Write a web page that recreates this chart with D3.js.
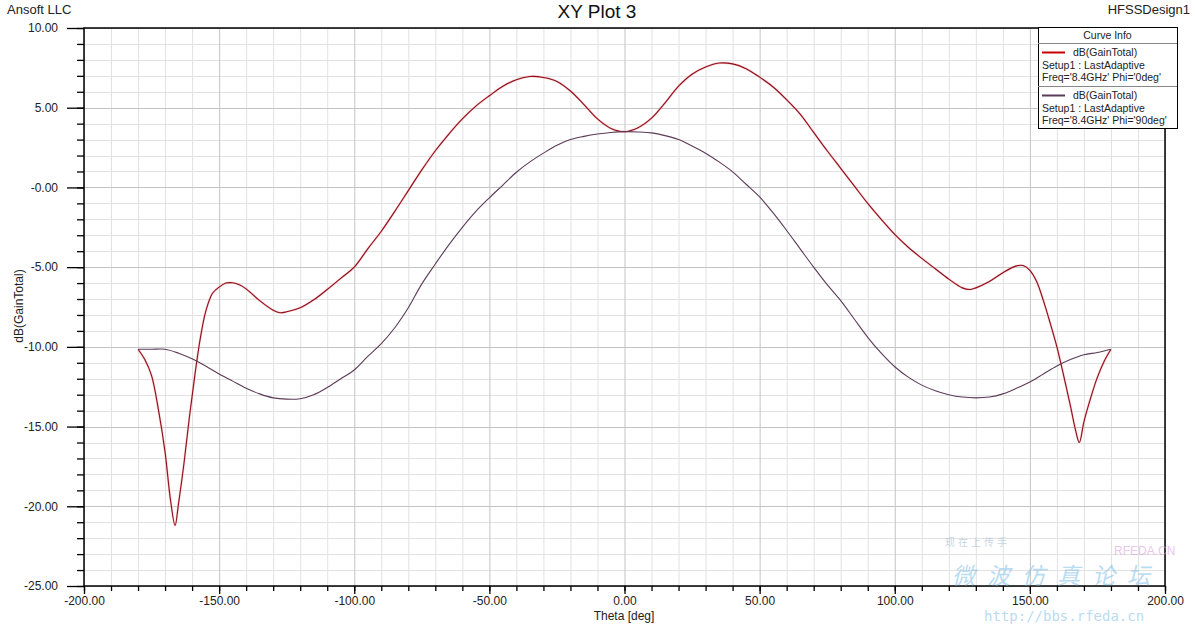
<!DOCTYPE html>
<html>
<head>
<meta charset="utf-8">
<script src="https://cdn.jsdelivr.net/npm/d3@7"></script>
<style>
  body { margin: 0; background: #fff; }
  svg { display: block; font-family: "Liberation Sans", Arial, sans-serif; }
</style>
</head>
<body>
<svg id="chart" width="1195" height="624"></svg>
<script>
// ---------------- data ----------------
const thetaPhi0 = [-180,-177.5,-175,-172.5,-170,-168,-166.3,-165,-163,-161,-159,-157,-155,-152.5,-150,-147.5,-145,-142.5,-140,-135,-130,-127.5,-125,-120,-115,-110,-105,-100,-95,-90,-85,-80,-75,-70,-65,-60,-55,-50,-45,-40,-35,-30,-25,-20,-15,-10,-5,0,5,10,15,20,25,30,35,40,45,50,55,60,65,70,75,80,85,90,95,100,105,110,115,120,125,128,130,135,140,145,147.5,150,152.5,155,157.5,160,162.5,165,167,168.3,170,172.5,175,177.5,180];
const gainPhi0 = [-10.15,-10.8,-11.8,-13.9,-16.6,-19.6,-21.2,-19.8,-17.3,-14.4,-11.8,-9.5,-7.8,-6.65,-6.25,-6.0,-5.98,-6.1,-6.36,-7.1,-7.7,-7.86,-7.8,-7.55,-7.05,-6.4,-5.7,-5.0,-3.85,-2.75,-1.5,-0.2,1.1,2.3,3.35,4.3,5.1,5.75,6.35,6.75,6.96,6.9,6.65,6.05,5.2,4.3,3.7,3.5,3.75,4.35,5.3,6.35,7.1,7.55,7.8,7.75,7.45,6.92,6.3,5.5,4.6,3.45,2.3,1.2,0.1,-1.0,-2.0,-2.95,-3.75,-4.45,-5.1,-5.75,-6.3,-6.4,-6.3,-5.9,-5.35,-4.92,-4.9,-5.2,-5.9,-7.1,-8.5,-10.0,-11.8,-13.7,-15.3,-16.0,-14.7,-13.2,-11.9,-10.9,-10.15];

const thetaPhi90 = [-180,-175,-170,-165,-160,-155,-150,-145,-140,-135,-130,-125,-120,-115,-110,-105,-100,-95,-90,-85,-80,-75,-70,-65,-60,-55,-50,-45,-40,-35,-30,-25,-20,-15,-10,-5,0,5,10,15,20,25,30,35,40,45,50,55,60,65,70,75,80,85,90,95,100,105,110,115,120,125,130,135,140,145,150,155,160,165,170,175,180];
const gainPhi90 = [-10.15,-10.15,-10.15,-10.4,-10.75,-11.2,-11.7,-12.15,-12.6,-12.95,-13.2,-13.28,-13.25,-13.0,-12.55,-12.0,-11.45,-10.6,-9.8,-8.8,-7.55,-6.05,-4.8,-3.6,-2.5,-1.5,-0.65,0.15,0.95,1.6,2.15,2.65,3.0,3.2,3.35,3.45,3.5,3.48,3.42,3.25,3.0,2.6,2.15,1.6,0.98,0.2,-0.6,-1.6,-2.7,-3.85,-5.0,-6.1,-7.1,-8.25,-9.4,-10.4,-11.25,-11.9,-12.4,-12.75,-13.0,-13.15,-13.2,-13.15,-12.95,-12.6,-12.2,-11.7,-11.2,-10.8,-10.5,-10.35,-10.15];

const xTickValues = [-200,-150,-100,-50,0,50,100,150,200];
const xTickLabels = ["-200.00","-150.00","-100.00","-50.00","0.00","50.00","100.00","150.00","200.00"];
const yTickValues = [10,5,0,-5,-10,-15,-20,-25];
const yTickLabels = ["10.00","5.00","-0.00","-5.00","-10.00","-15.00","-20.00","-25.00"];

const seriesNames = ["dB(GainTotal)","dB(GainTotal)"];
const seriesSetup = ["Setup1 : LastAdaptive","Setup1 : LastAdaptive"];
const seriesFreq = ["Freq='8.4GHz' Phi='0deg'","Freq='8.4GHz' Phi='90deg'"];
const seriesColors = ["#c80000","#5c3a58"];

// ---------------- layout ----------------
const svg = d3.select("#chart");
const L = 84, R = 1165, T = 28, B = 586;
const x = d3.scaleLinear().domain([-200, 200]).range([L, R]);
const y = d3.scaleLinear().domain([-25, 10]).range([B, T]);

// grid
const g = svg.append("g");
const xMinor = d3.range(-200, 201, 10);
const yMinor = d3.range(-25, 11, 1);
g.selectAll(".vmin").data(xMinor.filter(d => d % 50 !== 0)).enter().append("line")
  .attr("x1", d => x(d) + 0.5).attr("x2", d => x(d) + 0.5).attr("y1", T).attr("y2", B)
  .attr("stroke", "#e2e2e2").attr("stroke-width", 1);
g.selectAll(".hmin").data(yMinor.filter(d => d % 5 !== 0)).enter().append("line")
  .attr("y1", d => Math.round(y(d)) + 0.5).attr("y2", d => Math.round(y(d)) + 0.5).attr("x1", L).attr("x2", R)
  .attr("stroke", "#e2e2e2").attr("stroke-width", 1);
g.selectAll(".vmaj").data(xTickValues).enter().append("line")
  .attr("x1", d => x(d) + 0.5).attr("x2", d => x(d) + 0.5).attr("y1", T).attr("y2", B)
  .attr("stroke", "#c4c4c4").attr("stroke-width", 1);
g.selectAll(".hmaj").data(yTickValues).enter().append("line")
  .attr("y1", d => Math.round(y(d)) + 0.5).attr("y2", d => Math.round(y(d)) + 0.5).attr("x1", L).attr("x2", R)
  .attr("stroke", "#c4c4c4").attr("stroke-width", 1);

// axes
const xAxisMinor = d3.axisBottom(x).tickValues(xMinor).tickSize(5).tickFormat("");
const xAxis = d3.axisBottom(x).tickValues(xTickValues).tickSize(8).tickPadding(2)
  .tickFormat((d, i) => xTickLabels[i]);
const yAxisMinor = d3.axisLeft(y).tickValues(yMinor).tickSize(7).tickFormat("");
const yAxis = d3.axisLeft(y).tickValues(yTickValues).tickSize(17).tickPadding(9)
  .tickFormat((d, i) => yTickLabels[i]);

function styleAxis(sel) {
  sel.select(".domain").remove();
  sel.selectAll("line").attr("stroke", "#000").attr("stroke-width", 1.3);
  sel.selectAll("text").attr("fill", "#222").style("font-size", "12px")
    .style("font-family", '"Liberation Sans", Arial, sans-serif');
}
svg.append("g").attr("transform", `translate(0,${B})`).call(xAxisMinor).call(styleAxis);
svg.append("g").attr("transform", `translate(0,${B})`).call(xAxis).call(styleAxis);
svg.append("g").attr("transform", `translate(${L},0)`).call(yAxisMinor).call(styleAxis);
svg.append("g").attr("transform", `translate(${L},0)`).call(yAxis).call(styleAxis);

// frame
svg.append("rect").attr("x", L).attr("y", T).attr("width", R - L).attr("height", B - T)
  .attr("fill", "none").attr("stroke", "#000").attr("stroke-width", 1.5);

// curves
const line = d3.line().x(d => x(d[0])).y(d => y(d[1])).curve(d3.curveCatmullRom.alpha(0.5));
const series = [
  thetaPhi0.map((t, i) => [t, gainPhi0[i]]),
  thetaPhi90.map((t, i) => [t, gainPhi90[i]])
];
series.forEach((s, i) => {
  if (i === 0) {
    svg.append("path").datum(s).attr("d", line).attr("fill", "none")
      .attr("stroke", "#ff9a9a").attr("stroke-width", 2.2).attr("opacity", 0.5);
  }
  svg.append("path").datum(s).attr("d", line).attr("fill", "none")
    .attr("stroke", i === 0 ? "#8a0f1e" : seriesColors[1]).attr("stroke-width", 1.1);
});

// titles
svg.append("text").attr("x", 597).attr("y", 18).attr("text-anchor", "middle")
  .style("font-size", "19px").attr("fill", "#111").text("XY Plot 3");
svg.append("text").attr("x", 7).attr("y", 14)
  .style("font-size", "13px").attr("fill", "#222").text("Ansoft LLC");
svg.append("text").attr("x", 1190).attr("y", 14).attr("text-anchor", "end")
  .style("font-size", "13px").attr("fill", "#222").text("HFSSDesign1");
svg.append("text").attr("x", 624).attr("y", 620).attr("text-anchor", "middle")
  .style("font-size", "12px").attr("fill", "#222").text("Theta [deg]");
svg.append("text").attr("transform", "translate(23,306) rotate(-90)").attr("text-anchor", "middle")
  .style("font-size", "12px").attr("fill", "#222").text("dB(GainTotal)");

// legend
const lg = svg.append("g");
const LX = 1038, LY = 27, LW = 139, LH = 101;
lg.append("rect").attr("x", LX + 0.5).attr("y", LY + 0.5).attr("width", LW).attr("height", LH)
  .attr("fill", "#fff").attr("stroke", "#000").attr("stroke-width", 1);
lg.append("text").attr("x", LX + LW / 2).attr("y", LY + 12).attr("text-anchor", "middle")
  .style("font-size", "10.5px").attr("fill", "#222").text("Curve Info");
lg.append("line").attr("x1", LX).attr("x2", LX + LW).attr("y1", LY + 16.5).attr("y2", LY + 16.5)
  .attr("stroke", "#888");
lg.append("line").attr("x1", LX).attr("x2", LX + LW).attr("y1", LY + 59.5).attr("y2", LY + 59.5)
  .attr("stroke", "#888");
seriesNames.forEach((name, i) => {
  const oy = LY + 16 + i * 43;
  lg.append("line").attr("x1", LX + 4).attr("x2", LX + 27).attr("y1", oy + 9.5).attr("y2", oy + 9.5)
    .attr("stroke", seriesColors[i]).attr("stroke-width", 2);
  lg.append("text").attr("x", LX + 35).attr("y", oy + 13).style("font-size", "10.5px")
    .attr("fill", "#222").text(name);
  lg.append("text").attr("x", LX + 4).attr("y", oy + 25.5).style("font-size", "10.5px")
    .attr("fill", "#222").text(seriesSetup[i]);
  lg.append("text").attr("x", LX + 4).attr("y", oy + 38).style("font-size", "10.5px")
    .attr("fill", "#222").text(seriesFreq[i]);
});

// watermark
const wm = svg.append("g").attr("opacity", 0.55);
wm.append("text").attr("x", 1114).attr("y", 555).style("font-size", "12px")
  .attr("fill", "#d79ad8").text("RFEDA.CN");
wm.append("text").attr("x", 945).attr("y", 546).style("font-size", "10px")
  .style("font-family", '"Noto Sans CJK SC"').attr("fill", "#9ab8cc").attr("letter-spacing", "3px").text("现在上传手");
wm.append("text").attr("x", 952).attr("y", 584).style("font-size", "23px")
  .style("font-family", '"Noto Sans CJK SC"').attr("fill", "#7fc0e6").attr("letter-spacing", "12px")
  .attr("font-style", "italic").text("微波仿真论坛");
wm.append("text").attr("x", 984).attr("y", 621).style("font-size", "14px")
  .style("font-family", '"DejaVu Sans Mono", monospace').attr("fill", "#7fc0e6").text("http://bbs.rfeda.cn");
</script>
</body>
</html>
